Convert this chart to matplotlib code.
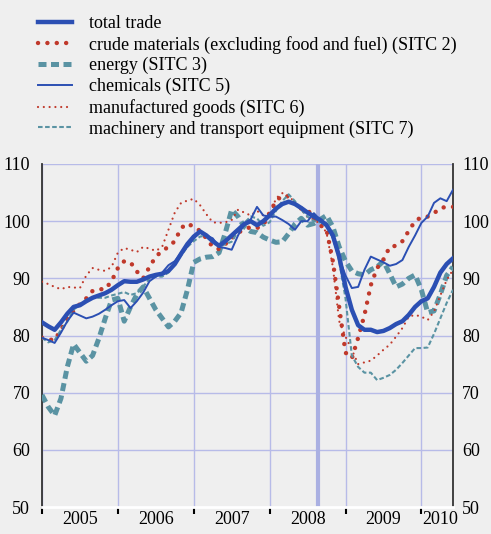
import numpy as np
import matplotlib
matplotlib.use('Agg')
import matplotlib.pyplot as plt

plt.rcParams['font.family'] = ['Liberation Serif', 'DejaVu Serif']
plt.rcParams['font.size'] = 13

# monthly index values, Jan 2005 .. Jun 2010
total = [82.3, 81.6, 81, 82.3, 83.8, 85, 85.3, 86, 86.6, 87, 87.4, 88, 88.8, 89.5, 89.4, 89.4,
         89.8, 90.3, 90.6, 90.8, 91.3, 92.5, 94.3, 96, 97.3, 98.2, 97.5, 96.5, 95.7, 96.5, 97.5,
         98.5, 99.5, 100, 99.3, 100, 101, 102.2, 103, 103.4, 103, 102.3, 101.5, 100.8, 100.2,
         99.3, 97.5, 93.8, 88.5, 84.5, 81.8, 81, 81, 80.6, 80.8, 81.3, 82, 82.5, 83.6, 85, 86,
         86.5, 88.5, 91, 92.5, 93.5]
crude = [79.6, 79.3, 79.2, 81, 83, 84.3, 85.5, 86.5, 87.8, 88.1, 88.1, 89.5, 91.8, 93, 92.8,
         91.2, 90, 92, 93.8, 94.8, 95.5, 96.5, 98.8, 99.6, 99, 98.3, 97, 95.5, 95.1, 96, 97, 98,
         98.5, 99, 98.8, 99.3, 101.5, 103.5, 104.5, 104.3, 103, 102.2, 102, 100.5, 99.3, 98.5,
         93, 85, 77, 76, 79.6, 83.6, 88.8, 91.8, 93.3, 95.5, 95.7, 96.5, 98.3, 100, 100.7,
         100.8, 101.4, 102.3, 102.5, 102.5]
energy = [69.6, 67.5, 66, 69, 74.5, 78.5, 77, 75.5, 76.5, 79.5, 83, 86.2, 86.5, 82.5, 85,
          87.2, 88.5, 86.5, 84.5, 83, 81.5, 82.5, 84, 88, 92.8, 93.4, 93.7, 93.8, 94.5, 98, 102,
          100.8, 99, 98.2, 98, 97.2, 96.7, 96.3, 96.4, 97.8, 99.5, 100.5, 99.3, 99.6, 100.3,
          101, 99, 95.5, 93, 91.3, 90.8, 90.6, 91.5, 92, 93, 90.8, 88.5, 89, 90, 90.6, 88, 84,
          84.3, 87.2, 90.5, 92]
chemicals = [79.6, 79.2, 78.7, 80.5, 82.5, 84, 83.5, 83, 83.3, 83.8, 84.5, 85.3, 86, 86.2,
             84.8, 86, 87.5, 89.5, 90.3, 91, 92.3, 93, 94.5, 95.5, 97, 98.1, 97.5, 97, 95.5,
             95.3, 95, 97.5, 99.5, 100.3, 102.5, 101, 100.8, 100.8, 100.2, 99.5, 98.5, 100, 100,
             101.4, 100.2, 99.5, 97, 93.5, 90.5, 88.3, 88.5, 91.5, 93.8, 93.3, 92.8, 92.2, 92.5,
             93.2, 95.5, 97.5, 99.7, 100.8, 103.2, 104, 103.5, 105.5]
manufactured = [89.4, 89, 88.5, 88.1, 88.5, 88.4, 88.3, 90.5, 91.8, 91.5, 91.3, 92, 94.5, 95.3,
                95, 94.6, 95.5, 95.2, 94.8, 95.5, 98.5, 101.5, 103.2, 103.6, 103.9, 102.8, 101.2,
                99.8, 99.7, 99.8, 100.2, 102, 101.5, 101, 101.8, 101, 100.8, 104, 104.9, 104.5,
                103.2, 102, 100.7, 100.3, 99.5, 98, 92, 82.5, 79.8, 77.5, 75, 75.3, 75.6, 76.5,
                77.5, 78.4, 79.8, 81.3, 83.3, 83.6, 83.3, 82.7, 84.2, 87, 89.7, 91.5]
machinery = [79.6, 78.8, 79.2, 81, 82.4, 84.5, 85.5, 86.2, 86.6, 86.6, 86.6, 87, 87.3, 87.6,
             87.1, 87.4, 88.5, 90, 90.3, 90.3, 91, 92.5, 94, 95.5, 96.5, 97.3, 97.5, 96.8, 95.5,
             96, 96.4, 98.2, 99.7, 100.8, 100.5, 99.2, 99.8, 101.8, 103.5, 104.7, 103.5, 102,
             100.8, 100, 99.8, 99.7, 97.5, 93, 86.5, 76.5, 74.5, 73.5, 73.5, 72.2, 72.6, 73.1,
             74, 75.2, 76.5, 77.8, 77.8, 77.9, 80.3, 83, 85.7, 88]

labels = ['total trade',
          'crude materials (excluding food and fuel) (SITC 2)',
          'energy (SITC 3)',
          'chemicals (SITC 5)',
          'manufactured goods (SITC 6)',
          'machinery and transport equipment (SITC 7)']
years = [2005, 2006, 2007, 2008, 2009, 2010]
crisis = 2008.64

t = 2005 + np.arange(len(total)) / 12.0

blue = '#2b4fb3'
red = '#c0392b'
teal = '#5a93a3'
grid_c = '#b7bbe8'
bg = '#efefef'

fig = plt.figure(figsize=(4.91, 5.34), dpi=100, facecolor=bg)
ax = fig.add_axes([42/491, 1 - 507/534, 411/491, 343/534], facecolor=bg)

ax.plot(t, total, color=blue, lw=3.2, label=labels[0], zorder=5)
ax.plot(t, crude, color=red, lw=3.2, ls=(0, (0.01, 2.1)), dash_capstyle='round',
        label=labels[1], zorder=4)
ax.plot(t, energy, color=teal, lw=3.6, ls=(0, (1.6, 0.9)), label=labels[2], zorder=3)
ax.plot(t, chemicals, color=blue, lw=1.4, label=labels[3], zorder=6)
ax.plot(t, manufactured, color=red, lw=1.6, ls=(0, (0.01, 2.6)), dash_capstyle='round',
        label=labels[4], zorder=4)
ax.plot(t, machinery, color=teal, lw=1.5, ls=(0, (2.2, 1.2)), label=labels[5], zorder=4)

ax.axvline(crisis, color='#aab0e2', lw=3, zorder=1)

ax.set_xlim(2005, 2005 + 65/12)
ax.set_ylim(50, 110)
ax.set_yticks(range(50, 111, 10))
ax.set_xticks(years)
ax.set_xticklabels([])
ax.set_xticks([y + 0.5 for y in years[:-1]] + [2010.25], minor=True)
ax.set_xticklabels([str(y) for y in years], minor=True)
ax.tick_params(axis='x', which='major', direction='out', length=5, width=1.5, color='black')
ax.tick_params(axis='x', which='minor', length=0, pad=3, labelsize=13)
ax.tick_params(axis='y', length=0, labelsize=13, pad=8.5)

# right-hand labels with their own padding
ax2 = ax.twinx()
ax2.set_ylim(ax.get_ylim())
ax2.set_yticks(range(50, 111, 10))
ax2.tick_params(axis='y', length=0, labelsize=13, pad=6.5)
for s in ax2.spines.values():
    s.set_visible(False)

ax.grid(True, which='major', color=grid_c, lw=1.0, zorder=0)
ax.set_axisbelow(True)

ax.spines['top'].set_visible(False)
ax.spines['left'].set_color('#333333')
ax.spines['right'].set_color('#333333')
ax.spines['left'].set_linewidth(1.3)
ax.spines['right'].set_linewidth(1.3)
ax.spines['bottom'].set_color('white')
ax.spines['bottom'].set_linewidth(2)

fig.legend(loc='upper left', bbox_to_anchor=(38/491, 1 - 15/534), frameon=False,
           fontsize=13, handlelength=1.9, handletextpad=0.9, labelspacing=0.2,
           borderaxespad=0, borderpad=0)

fig.savefig('out.png', dpi=100, facecolor=bg)
